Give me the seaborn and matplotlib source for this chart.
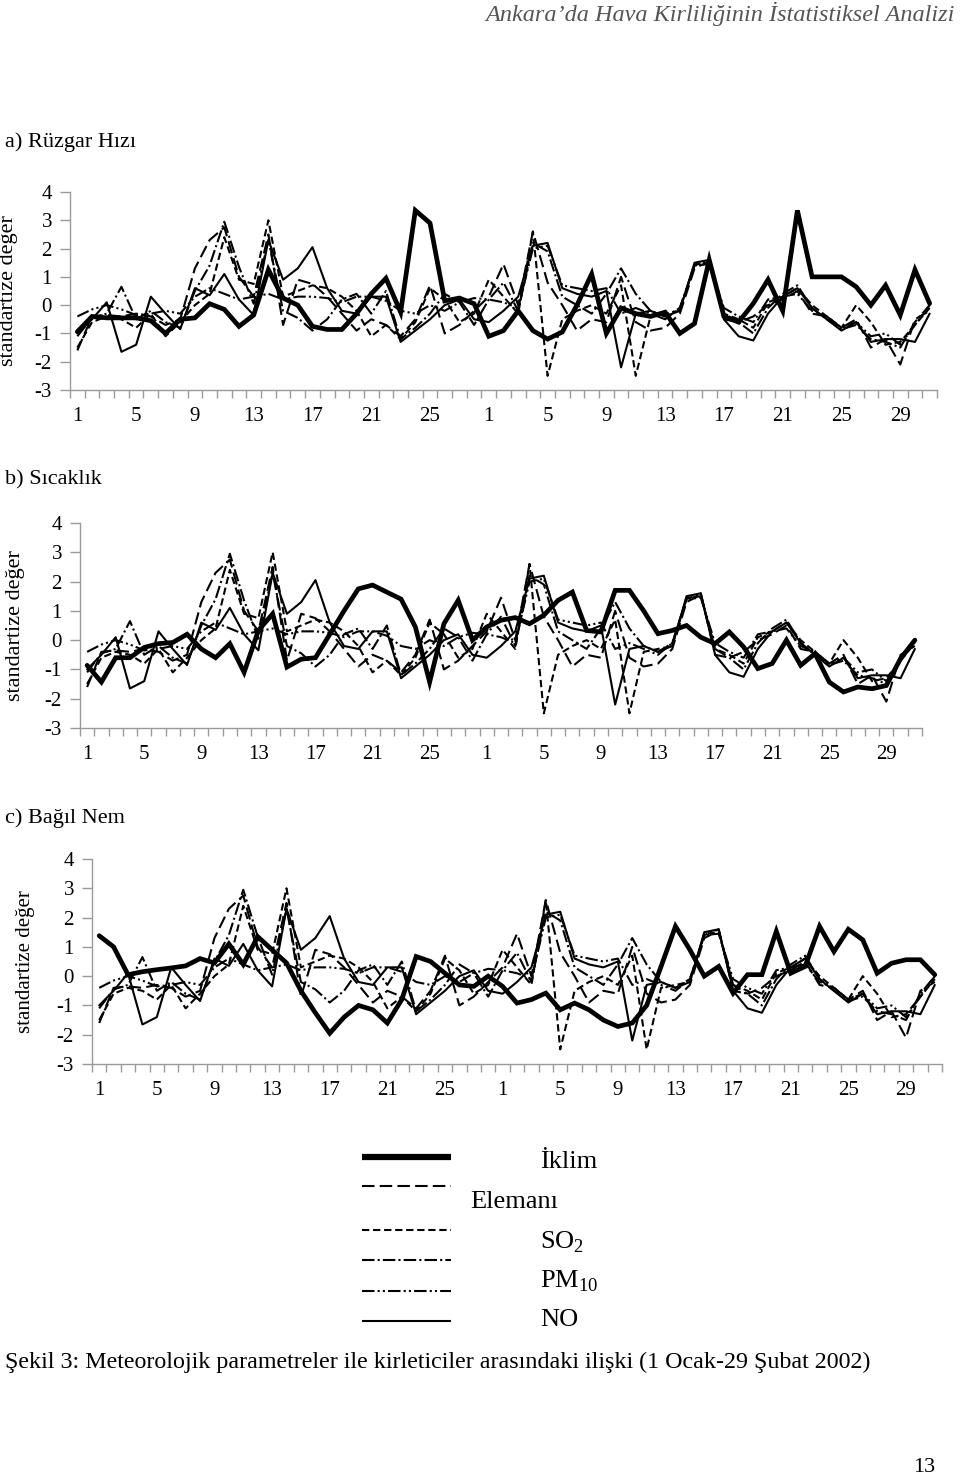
import numpy as np
import pandas as pd
import matplotlib
matplotlib.use("Agg")
import matplotlib.pyplot as plt
import seaborn as sns

# ---------------- data ----------------
xlabels = ['1', '5', '9', '13', '17', '21', '25', '1', '5', '9', '13', '17', '21', '25', '29']
n_days = 59

# climate elements (thick line) per panel
ruzgar = [-0.94, -0.4, -0.45, -0.45, -0.45, -0.55, -1.0, -0.5, -0.45, 0.05, -0.15, -0.75, -0.35, 1.25,
          0.25, 0.0, -0.75, -0.86, -0.86, -0.3, 0.4, 0.95, -0.25, 3.35, 2.9, 0.15, 0.25, 0.05, -1.1,
          -0.9, -0.2, -0.9, -1.2, -0.95, 0.0, 1.1, -1.0, -0.1, -0.3, -0.4, -0.25, -1.0, -0.65, 1.6,
          -0.4, -0.6, 0.06, 0.9, -0.2, 3.35, 1.0, 1.0, 1.0, 0.65, 0.0, 0.7, -0.35, 1.25, 0.06]
sicaklik = [-0.86, -1.43, -0.6, -0.6, -0.25, -0.12, -0.08, 0.2, -0.3, -0.6, -0.12, -1.1, 0.33, 0.9,
            -0.92, -0.65, -0.6, 0.2, 1.0, 1.75, 1.88, 1.64, 1.4, 0.45, -1.43, 0.56, 1.36, 0.0, 0.45,
            0.68, 0.77, 0.56, 0.85, 1.36, 1.64, 0.33, 0.28, 1.7, 1.7, 1.0, 0.22, 0.33, 0.5, 0.1,
            -0.12, 0.28, -0.23, -0.97, -0.8, 0.0, -0.86, -0.46, -1.43, -1.77, -1.6, -1.66, -1.55, -0.63, 0.0]
bagil_nem = [1.38, 1.0, 0.05, 0.15, 0.22, 0.28, 0.35, 0.6, 0.45, 1.1, 0.4, 1.35, 0.9, 0.45, -0.5,
             -1.25, -1.95, -1.4, -1.0, -1.15, -1.6, -0.8, 0.67, 0.5, 0.1, -0.3, -0.35, 0.0, -0.35,
             -0.92, -0.8, -0.58, -1.15, -0.92, -1.15, -1.5, -1.72, -1.6, -1.0, 0.33, 1.7, 0.9, 0.0,
             0.33, -0.58, 0.05, 0.05, 1.53, 0.1, 0.33, 1.7, 0.84, 1.6, 1.24, 0.1, 0.44, 0.56, 0.56, 0.05]

# pollutants (same in every panel)
p_longdash = [-1.6, -0.4, -0.35, -0.4, -0.3, -0.4, -0.7, -0.5, 1.3, 2.3, 2.75, 1.0, 0.3, 2.5, -0.7,
              0.9, 0.75, 0.3, -0.3, -0.9, -0.5, -0.7, -1.1, -0.5, 0.7, -1.0, -0.7, -0.2, 0.3, 1.45,
              0.0, 2.6, 0.8, 0.0, -0.9, -0.5, -0.6, 1.0, -0.6, -0.9, -0.8, -0.3, 1.3, 1.55, -0.3,
              -0.6, -0.4, 0.0, 0.2, 0.5, -0.3, -0.4, -0.8, -0.5, -1.5, -1.2, -2.1, -0.5, -0.2]
p_so2 = [-1.5, -0.6, -0.4, -0.5, -0.8, -0.3, -1.1, -0.6, 0.0, 0.4, 2.4, 0.9, 0.75, 3.0, 0.3, 0.5,
         0.7, 0.6, 0.3, -0.2, -1.1, -0.7, -1.2, -0.6, 0.6, 0.2, -0.6, -0.3, 0.9, 0.3, -0.3, 2.6,
         -2.5, -0.5, -0.2, 0.0, -0.3, 0.7, -2.5, -0.4, -0.3, -0.2, 1.45, 1.5, -0.3, -0.5, -0.8,
         0.1, 0.3, 0.6, 0.0, -0.4, -0.8, 0.0, -0.6, -1.4, -1.3, -0.7, -0.1]
p_pm10 = [-1.1, -0.45, -0.3, 0.65, -0.5, -0.2, -0.6, -0.8, 0.5, 1.4, 2.95, 1.35, 0.05, 2.3, -0.2,
          -0.45, -0.9, -0.5, 0.2, 0.4, -0.3, 0.5, -1.2, -0.8, -0.3, 0.4, 0.1, -0.7, 0.2, 0.8, -0.2,
          2.2, 1.9, 0.3, 0.0, -0.3, 0.4, 1.3, 0.4, -0.2, -0.4, -0.1, 1.4, 1.6, -0.5, -0.6, -1.0,
          -0.1, 0.4, 0.7, -0.1, -0.5, -0.85, -0.7, -1.2, -1.3, -1.5, -0.6, 0.0]
p_no = [-0.4, -0.15, 0.0, -0.15, -0.35, -0.3, -0.2, -0.3, 0.3, 0.6, 0.4, 0.2, 0.3, 0.4, 0.2, 0.3,
        0.3, 0.25, 0.1, 0.3, 0.3, 0.15, -0.2, -0.3, 0.0, -0.2, 0.1, 0.25, 0.2, 0.1, -0.1, 2.0, 2.1,
        0.7, 0.6, 0.5, 0.6, -0.3, -0.1, -0.3, -0.5, -0.1, 1.4, 1.45, -0.1, -0.4, -0.6, 0.2, 0.3,
        0.4, -0.2, -0.4, -0.8, -0.6, -1.1, -1.0, -1.4, -0.7, 0.0]
p_solid = [-1.0, -0.5, 0.1, -1.65, -1.4, 0.3, -0.3, -0.85, 0.6, 0.35, 1.1, 0.2, -0.35, 2.3, 0.9,
           1.3, 2.05, 0.6, -0.2, -0.3, 0.3, 0.3, -1.3, -0.9, -0.5, 0.0, 0.2, -0.5, -0.6, -0.2, 0.3,
           2.1, 2.2, 0.6, 0.4, 0.3, 0.5, -2.2, -0.3, -0.2, -0.4, -0.2, 1.5, 1.6, -0.5, -1.1, -1.25,
           -0.3, 0.3, 0.6, -0.1, -0.5, -0.9, -0.6, -1.3, -1.2, -1.2, -1.3, -0.3]

panel_titles = ['a) Rüzgar Hızı', 'b) Sıcaklık', 'c) Bağıl Nem']
climate = [ruzgar, sicaklik, bagil_nem]
pollutants = [p_longdash, p_so2, p_pm10, p_no, p_solid]
poll_styles = [(0, (6, 2.5)), (0, (3.5, 1.8)), (0, (6, 1.5, 1, 1.5)),
               (0, (6, 1.5, 1, 1.5, 1, 1.5)), '-']

# ---------------- style ----------------
sns.set_theme(style='white')
plt.rcParams['font.family'] = ['Liberation Serif', 'DejaVu Serif']
plt.rcParams['axes.unicode_minus'] = False
plt.rcParams['mathtext.fontset'] = 'custom'
plt.rcParams['mathtext.rm'] = 'Liberation Serif'

W, H = 960, 1481
fig = plt.figure(figsize=(W / 100, H / 100), dpi=100)
fig.patch.set_facecolor('white')

def fx(px):
    return px / W

def fy(py):
    return 1 - py / H

# axes rectangles (pixels: left, right, top, bottom)
rects = [(70, 937, 192, 390), (80, 922, 523, 728), (92, 942, 859, 1064)]
ylab_x = [18, 25, 35]
ylab_size = [16, 16, 15]
title_y = [142, 480, 818]

days = np.arange(n_days)
grey = '#9a9a9a'

for k in range(3):
    l, r, t, b = rects[k]
    ax = fig.add_axes([fx(l), fy(b), (r - l) / W, (b - t) / H])
    df = pd.DataFrame({'gun': days, 'deger': climate[k]})
    sns.lineplot(data=df, x='gun', y='deger', ax=ax, color='black', lw=3.4,
                 legend=False, solid_joinstyle='miter')
    for vals, ls in zip(pollutants, poll_styles):
        dfp = pd.DataFrame({'gun': days, 'deger': vals})
        sns.lineplot(data=dfp, x='gun', y='deger', ax=ax, color='black', lw=1.5,
                     linestyle=ls, legend=False)
    ax.set_xlim(-0.5, n_days - 0.5)
    ax.set_ylim(-3, 4)
    ax.set_yticks(range(-3, 5))
    ax.set_yticklabels([str(v) for v in range(-3, 5)], fontsize=15, color='black')
    ax.set_xticks(np.arange(0, n_days, 4)[:len(xlabels)])
    ax.set_xticklabels(xlabels, fontsize=15, color='black')
    ax.set_xticks(np.arange(-0.5, n_days, 1), minor=True)
    ax.tick_params(axis='x', which='major', length=0, pad=12)
    ax.tick_params(axis='x', which='minor', length=6, width=1, color=grey, direction='out', bottom=True)
    ax.tick_params(axis='y', which='major', length=7, width=1, color=grey, direction='out', left=True, pad=6)
    for s in ['top', 'right']:
        ax.spines[s].set_visible(False)
    for s in ['left', 'bottom']:
        ax.spines[s].set_color(grey)
        ax.spines[s].set_linewidth(1)
    ax.set_xlabel('')
    ax.set_ylabel('standartize değer', fontsize=ylab_size[k], color='black')
    ax.yaxis.set_label_coords((ylab_x[k] - l) / (r - l), 0.5)
    ax.set_facecolor('white')
    ax.grid(False)
    fig.text(fx(5), fy(title_y[k]), panel_titles[k], fontsize=16, ha='left', va='center', color='black')

# header
fig.text(fx(955), fy(14), "Ankara’da Hava Kirliliğinin İstatistiksel Analizi", fontsize=17.5,
         style='italic', ha='right', va='center', color='#555555')

# legend (drawn as keys + labels)
lax = fig.add_axes([0, 0, 1, 1])
lax.set_xlim(0, W)
lax.set_ylim(H, 0)
lax.axis('off')
leg_styles = ['-', (0, (6, 2.5)), (0, (3.5, 1.8)), (0, (6, 1.5, 1, 1.5)), (0, (6, 1.5, 1, 1.5, 1, 1.5)), '-']
leg_lw = [4.5, 1.5, 1.5, 1.5, 1.5, 1.5]
leg_y = [1157, 1186, 1230, 1260, 1291, 1321]
for ls, lw, yy in zip(leg_styles, leg_lw, leg_y):
    lax.plot([362, 451], [yy, yy], color='black', lw=lw, linestyle=ls, solid_capstyle='butt')
leg_texts = [('İklim', 540, 1162), ('Elemanı', 470, 1202), (r'SO$_{\rm 2}$', 540, 1242),
             (r'PM$_{\rm 10}$', 540, 1281), ('NO', 540, 1320)]
for txt, xx, yy in leg_texts:
    fig.text(fx(xx), fy(yy), txt, fontsize=19, ha='left', va='center', color='black')

# caption and page number
fig.text(fx(5), fy(1362), 'Şekil 3: Meteorolojik parametreler ile kirleticiler arasındaki ilişki (1 Ocak-29 Şubat 2002)',
         fontsize=17.3, ha='left', va='center', color='black')
fig.text(fx(935), fy(1468), '13', fontsize=16, ha='right', va='center', color='black')

fig.savefig('out.png', dpi=100, facecolor='white')
